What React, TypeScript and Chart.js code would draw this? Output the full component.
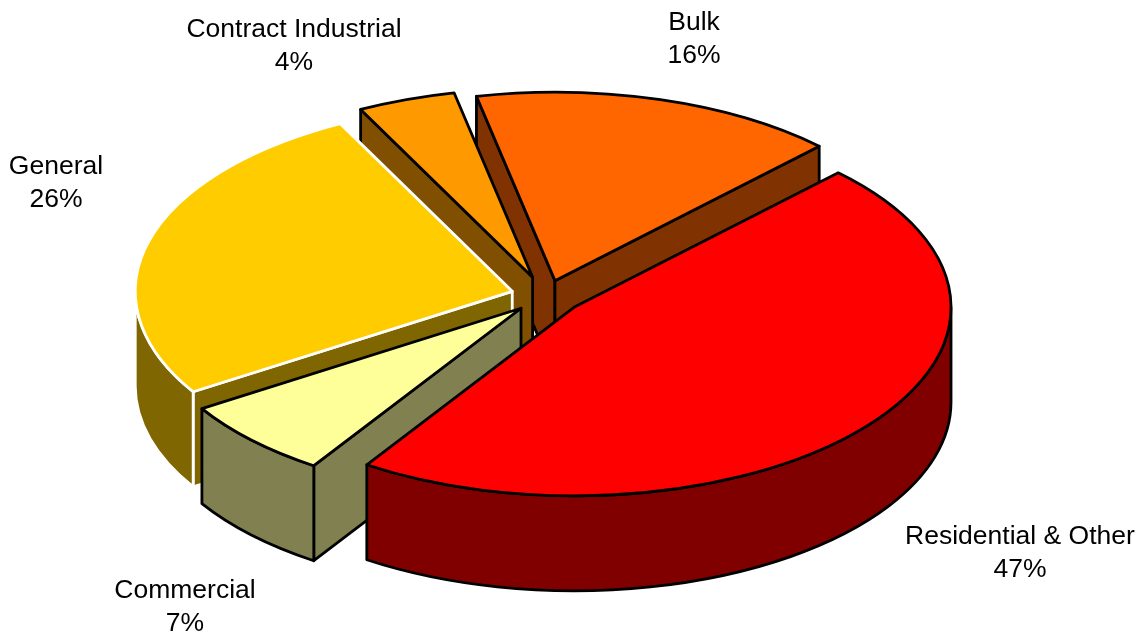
import React, { useEffect, useRef } from "react";
import { Chart, registerables } from "chart.js";

Chart.register(...registerables);

const categories = ["Residential & Other", "Commercial", "General", "Contract Industrial", "Bulk"];
const shares = [46.9, 6.8, 26.4, 4.2, 15.7];
const topColors = ["#FF0000", "#FFFF99", "#FFCC00", "#FF9900", "#FF6600"];
const wallColors = ["#800000", "#808050", "#806600", "#805000", "#803300"];
const edgeColors = ["#000000", "#000000", "#FFFFFF", "#000000", "#000000"];
const explode = [36, 35, 35, 40, 32];
const paintOrder = [4, 3, 2, 1, 0];
const labelCentres = [
  [1020, 537],
  [185, 591],
  [56, 167],
  [294, 30],
  [694, 23],
];

const FLATTEN = 0.5;
const DEPTH = 95;
const RADIUS = 377;
const LINE_HEIGHT = 33;

const pie3d = {
  id: "pie3d",
  beforeDatasetDraw(chart: any) {
    const ctx: CanvasRenderingContext2D = chart.ctx;
    const arcs = chart.getDatasetMeta(0).data;
    ctx.save();
    ctx.lineJoin = "round";
    ctx.lineWidth = 2.8;
    for (const i of paintOrder) {
      const arc = arcs[i];
      const { x, y, startAngle, endAngle, outerRadius } = arc.getProps(
        ["x", "y", "startAngle", "endAngle", "outerRadius"],
        true
      );
      const mid = (startAngle + endAngle) / 2;
      const cx = x + Math.cos(mid) * explode[i];
      const cy = y + Math.sin(mid) * explode[i] * FLATTEN;
      const rx = outerRadius;
      const ry = outerRadius * FLATTEN;
      const px = (a: number) => cx + Math.cos(a) * rx;
      const py = (a: number) => cy + Math.sin(a) * ry;
      ctx.fillStyle = wallColors[i];
      ctx.strokeStyle = edgeColors[i];

      // radial side faces, only those turned towards the viewer
      const faces: number[] = [];
      if (Math.cos(startAngle) < 0) faces.push(startAngle);
      if (Math.cos(endAngle) > 0) faces.push(endAngle);
      for (const a of faces) {
        ctx.beginPath();
        ctx.moveTo(cx, cy);
        ctx.lineTo(px(a), py(a));
        ctx.lineTo(px(a), py(a) + DEPTH);
        ctx.lineTo(cx, cy + DEPTH);
        ctx.closePath();
        ctx.fill();
        ctx.stroke();
      }

      // outer curved wall: only the front half of the ellipse is visible
      const TAU = Math.PI * 2;
      for (const k of [-1, 0, 1]) {
        const a0 = Math.max(startAngle, k * TAU);
        const a1 = Math.min(endAngle, k * TAU + Math.PI);
        if (a1 <= a0) continue;
        ctx.beginPath();
        ctx.ellipse(cx, cy, rx, ry, 0, a0, a1, false);
        ctx.ellipse(cx, cy + DEPTH, rx, ry, 0, a1, a0, true);
        ctx.closePath();
        ctx.fill();
        ctx.stroke();
      }

      // top face, drawn by the library's arc element on a flattened canvas
      ctx.save();
      ctx.translate(cx, cy);
      ctx.scale(1, FLATTEN);
      ctx.translate(-x, -y);
      arc.draw(ctx);
      ctx.restore();

      ctx.beginPath();
      ctx.moveTo(cx, cy);
      ctx.ellipse(cx, cy, rx, ry, 0, startAngle, endAngle, false);
      ctx.closePath();
      ctx.stroke();
    }
    ctx.restore();
    return false;
  },
  afterDatasetsDraw(chart: any) {
    const ctx: CanvasRenderingContext2D = chart.ctx;
    ctx.save();
    ctx.fillStyle = "#000000";
    ctx.font = '26.5px "Liberation Sans", Arial, sans-serif';
    ctx.textAlign = "center";
    ctx.textBaseline = "middle";
    categories.forEach((name, i) => {
      const [lx, ly] = labelCentres[i];
      ctx.fillText(name, lx, ly);
      ctx.fillText(Math.round(shares[i]) + "%", lx, ly + LINE_HEIGHT);
    });
    ctx.restore();
  },
};

export default function App() {
  const ref = useRef<HTMLCanvasElement>(null);
  useEffect(() => {
    document.body.style.margin = "0";
    document.body.style.background = "#FFFFFF";
    const chart = new Chart(ref.current!, {
      type: "pie",
      data: {
        labels: categories,
        datasets: [
          {
            data: shares,
            backgroundColor: topColors,
            borderWidth: 0,
          },
        ],
      },
      options: {
        animation: false,
        responsive: false,
        devicePixelRatio: 1,
        radius: RADIUS,
        rotation: 44.5,
        layout: { padding: { right: 52, bottom: 45 } },
        plugins: { legend: { display: false }, tooltip: { enabled: false }, title: { display: false } },
      } as any,
      plugins: [pie3d],
    });
    return () => chart.destroy();
  }, []);
  return <canvas ref={ref} width={1144} height={637} style={{ display: "block", width: 1144, height: 637 }} />;
}
